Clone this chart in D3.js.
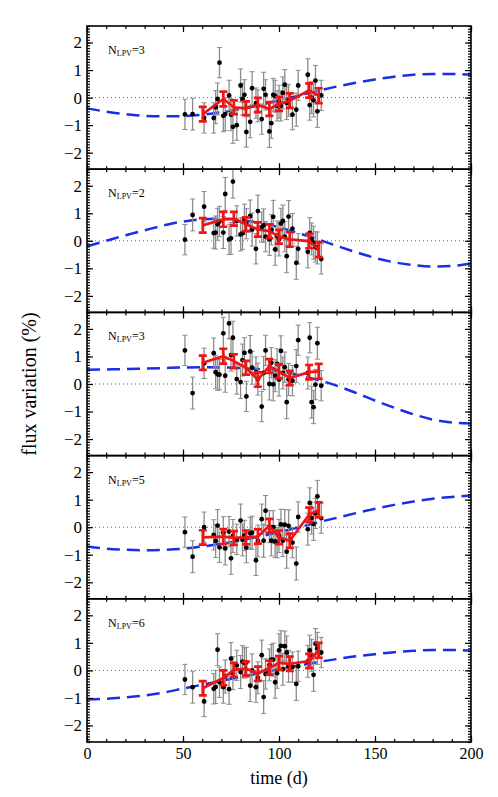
<!DOCTYPE html>
<html>
<head>
<meta charset="utf-8">
<script src="https://cdn.jsdelivr.net/npm/d3@7"></script>
<style>
  html, body { margin: 0; padding: 0; background: #fff; }
  svg { display: block; }
</style>
</head>
<body>
<div id="container"></div>
<script>
// observation epochs (days), shared by every panel
const times = [51, 55, 61, 66, 67, 68, 69, 71, 72, 74, 75, 76, 78, 80, 81, 82, 83, 85, 86, 88,
  89, 91, 92, 93, 95, 96, 97, 98, 99, 100, 101, 102, 103, 104, 105, 107, 109, 110,
  115, 116, 117, 118, 119, 120, 122]
const dotErr = [0.55, 0.58, 0.55, 0.55, 0.6, 0.58, 0.55, 0.58, 0.6, 0.55, 0.58, 0.6, 0.55, 0.6, 0.58,
  0.55, 0.55, 0.58, 0.6, 0.55, 0.58, 0.55, 0.6, 0.55, 0.58, 0.55, 0.6, 0.58, 0.55, 0.6,
  0.55, 0.58, 0.55, 0.6, 0.58, 0.55, 0.6, 0.55, 0.58, 0.55, 0.58, 0.6, 0.55, 0.58, 0.55]

const flux1 = [-0.61, -0.60, -0.74, -0.74, -0.35, -0.05, 1.27, -0.66, -0.60, 0.08, -0.62, -1.06, -1.00,
  0.44, -0.05, 0.10, -1.25, -0.88, 0.34, -0.20, -0.30, -0.78, 0.32, 0.10, -1.23, -0.93, 0.10,
  0.05, -0.30, -0.15, -0.30, 0.17, 0.47, -0.20, -0.10, -0.62, -0.44, 0.44, 0.83, -0.27, 0.00,
  -0.10, 0.62, -0.50, 0.08]
const flux2 = [0.04, 0.94, 1.24, 0.28, 0.30, 0.60, 0.70, 0.30, 1.70, 0.05, 0.09, 2.15, 0.72, 0.23,
  0.27, 0.78, 0.62, 0.90, 0.41, -0.29, 1.08, 0.50, 0.56, 0.15, 0.05, 0.40, 0.87, -0.31, 0.17,
  0.05, 0.63, 0.72, 0.15, -0.56, 0.88, 0.44, -0.80, -0.29, -0.40, 0.29, 0.07, -0.07, -0.22,
  -0.26, -0.66]
const flux3 = [1.22, -0.33, 0.75, 1.12, 0.43, 0.35, 0.34, 1.84, 0.30, 2.20, 1.05, 1.68, 0.18, 0.07,
  0.87, 1.13, -0.45, 1.18, 0.59, 0.43, 0.18, -0.82, 0.40, 1.22, 0.00, 0.77, -0.01, 0.30, 0.73,
  0.16, 1.20, 0.40, 0.61, -0.66, 0.16, 0.12, 0.65, 1.59, 0.40, 1.68, -0.66, -0.84, -0.02,
  1.48, -0.06]
const flux4 = [-0.18, -1.07, 0.00, -0.28, -0.50, 0.06, -0.73, -0.20, -0.77, -0.16, -1.13, -0.32,
  -0.44, 0.24, -0.46, -0.30, -0.74, -0.22, -0.20, -1.20, -0.50, 0.29, -0.49, 0.60, 0.02, -0.49,
  0.00, -0.52, -0.56, -0.32, 0.10, -0.49, 0.09, -0.89, 0.05, -0.56, -1.32, 0.37, -0.07, 0.88,
  0.33, 0.12, 0.50, 1.12, 0.33]
const flux5 = [-0.33, -0.61, -1.13, -0.67, -0.60, 0.75, -0.43, -0.61, -0.22, -0.68, 0.43, -0.10,
  0.18, -0.06, 0.32, 0.27, 0.29, -0.55, 0.00, -0.61, -0.27, 0.55, -0.97, -0.13, 0.20, 0.39,
  0.39, -0.43, -0.10, 0.73, 0.89, 0.04, 0.88, 0.65, 0.15, 0.12, -0.49, 0.15, 0.33, 0.73, 0.55,
  -0.16, 0.97, 0.80, 0.65]

// binned averages (red)
const binTimes = [60.3, 71, 76.5, 82.8, 89, 95, 100, 105.6, 115.7, 120.7]
const binErr = [0.26, 0.27, 0.25, 0.25, 0.26, 0.25, 0.25, 0.26, 0.26, 0.27]
const bin1 = [-0.60, -0.05, -0.35, -0.39, -0.27, -0.41, -0.23, -0.11, 0.26, 0.07]
const bin2 = [0.56, 0.78, 0.80, 0.60, 0.41, 0.35, 0.15, 0.05, -0.01, -0.32]
const bin3 = [0.77, 1.01, 0.83, 0.59, 0.16, 0.65, 0.46, 0.22, 0.43, 0.46]
const bin4 = [-0.37, -0.34, -0.39, -0.37, -0.34, 0.05, -0.37, -0.49, 0.45, 0.63]
const bin5 = [-0.65, -0.27, 0.02, 0.07, -0.12, 0.10, 0.27, 0.24, 0.34, 0.73]

// model curves (blue dashed)
const modelTimes = [0, 10, 20, 30, 40, 50, 60, 70, 80, 90, 100, 110, 120, 130, 140, 150, 160, 170, 180, 190, 200]
const model1 = [-0.39, -0.51, -0.60, -0.66, -0.68, -0.67, -0.62, -0.53, -0.41, -0.27, -0.10, 0.07,
  0.24, 0.40, 0.54, 0.66, 0.76, 0.83, 0.86, 0.86, 0.83]
const model2 = [-0.20, 0.00, 0.20, 0.38, 0.56, 0.70, 0.78, 0.80, 0.75, 0.65, 0.49, 0.28, 0.06,
  -0.18, -0.41, -0.62, -0.78, -0.88, -0.93, -0.91, -0.83]
const model3 = [0.52, 0.53, 0.54, 0.56, 0.58, 0.60, 0.61, 0.60, 0.58, 0.54, 0.46, 0.33, 0.15,
  -0.06, -0.32, -0.60, -0.86, -1.10, -1.29, -1.40, -1.43]
const model4 = [-0.70, -0.78, -0.82, -0.84, -0.82, -0.78, -0.70, -0.60, -0.48, -0.34, -0.18, -0.01,
  0.17, 0.34, 0.51, 0.67, 0.81, 0.93, 1.03, 1.10, 1.15]
const model5 = [-1.05, -1.03, -0.98, -0.91, -0.80, -0.66, -0.52, -0.38, -0.24, -0.10, 0.04, 0.17,
  0.30, 0.41, 0.51, 0.59, 0.66, 0.71, 0.74, 0.74, 0.71]

const nLPV = [3, 2, 3, 5, 6]
const xTicks = [0, 50, 100, 150, 200]
const yTicks = [-2, -1, 0, 1, 2]

const fluxes = [flux1, flux2, flux3, flux4, flux5]
const bins = [bin1, bin2, bin3, bin4, bin5]
const models = [model1, model2, model3, model4, model5]

const width = 498
const height = 797
const margin = { top: 26, bottom: 55, left: 87, right: 27 }
const nPanels = 5
const panelH = (height - margin.top - margin.bottom) / nPanels

const serif = '"Liberation Serif", "DejaVu Serif", serif'

const svg = d3.select('#container')
  .append('svg')
  .attr('width', width)
  .attr('height', height)
  .attr('viewBox', [0, 0, width, height])

const x = d3.scaleLinear()
  .domain([0, 200])
  .range([margin.left, width - margin.right])

const curve = d3.line().curve(d3.curveMonotoneX)

fluxes.forEach((flux, p) => {
  const top = margin.top + p * panelH
  const y = d3.scaleLinear()
    .domain([-2.6, 2.6])
    .range([top + panelH, top])

  const g = svg.append('g')

  svg.append('clipPath')
    .attr('id', 'clip' + p)
    .append('rect')
    .attr('x', x(0))
    .attr('y', top)
    .attr('width', x(200) - x(0))
    .attr('height', panelH)

  const plot = g.append('g').attr('clip-path', `url(#clip${p})`)

  // zero line
  plot.append('line')
    .attr('x1', x(0)).attr('x2', x(200))
    .attr('y1', y(0)).attr('y2', y(0))
    .style('stroke', '#666')
    .style('stroke-width', 1)
    .style('stroke-dasharray', '1,3')

  // model
  plot.append('path')
    .attr('d', curve(modelTimes.map((t, i) => [x(t), y(models[p][i])])))
    .style('fill', 'none')
    .style('stroke', '#1a2ee6')
    .style('stroke-width', 2.5)
    .style('stroke-dasharray', '13,7')

  // single points with error bars
  const pts = times.map((t, i) => ({ t, v: flux[i], e: dotErr[i] }))
  const eb = plot.append('g')
    .style('stroke', '#8c8c8c')
    .style('stroke-width', 1.3)
  eb.selectAll('line.v')
    .data(pts)
    .join('line')
    .attr('class', 'v')
    .attr('x1', d => x(d.t)).attr('x2', d => x(d.t))
    .attr('y1', d => y(d.v - d.e)).attr('y2', d => y(d.v + d.e))
  eb.selectAll('line.cap')
    .data(pts.flatMap(d => [[d.t, d.v - d.e], [d.t, d.v + d.e]]))
    .join('line')
    .attr('class', 'cap')
    .attr('x1', d => x(d[0]) - 2.5).attr('x2', d => x(d[0]) + 2.5)
    .attr('y1', d => y(d[1])).attr('y2', d => y(d[1]))
    .style('stroke-width', 1)

  plot.append('g')
    .selectAll('circle')
    .data(pts)
    .join('circle')
    .attr('cx', d => x(d.t))
    .attr('cy', d => y(d.v))
    .attr('r', 2.4)
    .style('fill', '#000')

  // binned averages
  const bpts = binTimes.map((t, i) => ({ t, v: bins[p][i], e: binErr[i] }))
  const red = plot.append('g')
    .style('stroke', '#f01414')
    .style('stroke-width', 2.7)
    .style('fill', 'none')
  red.append('path')
    .attr('d', d3.line()(bpts.map(d => [x(d.t), y(d.v)])))
    .style('stroke-linejoin', 'round')
  red.selectAll('line.v')
    .data(bpts)
    .join('line')
    .attr('class', 'v')
    .attr('x1', d => x(d.t)).attr('x2', d => x(d.t))
    .attr('y1', d => y(d.v - d.e)).attr('y2', d => y(d.v + d.e))
  red.selectAll('line.cap')
    .data(bpts.flatMap(d => [[d.t, d.v - d.e], [d.t, d.v + d.e]]))
    .join('line')
    .attr('class', 'cap')
    .attr('x1', d => x(d[0]) - 4).attr('x2', d => x(d[0]) + 4)
    .attr('y1', d => y(d[1])).attr('y2', d => y(d[1]))

  // axes: ticks point inward
  const axes = g.append('g')
  const styleAxis = sel => {
    sel.select('.domain').remove()
    sel.selectAll('line').style('stroke', '#000').style('stroke-width', 1.2)
  }
  axes.append('g')
    .attr('transform', `translate(${x(0)},0)`)
    .call(d3.axisLeft(y).tickValues(y.ticks(50)).tickSize(-3).tickFormat(''))
    .call(styleAxis)
  axes.append('g')
    .attr('transform', `translate(${x(200)},0)`)
    .call(d3.axisRight(y).tickValues(y.ticks(50)).tickSize(-3).tickFormat(''))
    .call(styleAxis)
  const left = axes.append('g')
    .attr('transform', `translate(${x(0)},0)`)
    .call(d3.axisLeft(y).tickValues(yTicks).tickSize(-6).tickPadding(5).tickFormat(d3.format('d')))
    .call(styleAxis)
  left.selectAll('text')
    .style('font-family', serif)
    .style('font-size', '17px')
    .style('fill', '#000')
  axes.append('g')
    .attr('transform', `translate(${x(200)},0)`)
    .call(d3.axisRight(y).tickValues(yTicks).tickSize(-6).tickFormat(''))
    .call(styleAxis)

  axes.append('g')
    .attr('transform', `translate(0,${top})`)
    .call(d3.axisTop(x).tickValues(x.ticks(20)).tickSize(-3).tickFormat(''))
    .call(styleAxis)
  axes.append('g')
    .attr('transform', `translate(0,${top})`)
    .call(d3.axisTop(x).tickValues(xTicks).tickSize(-6).tickFormat(''))
    .call(styleAxis)
  axes.append('g')
    .attr('transform', `translate(0,${top + panelH})`)
    .call(d3.axisBottom(x).tickValues(x.ticks(20)).tickSize(-3).tickFormat(''))
    .call(styleAxis)
  const bottom = axes.append('g')
    .attr('transform', `translate(0,${top + panelH})`)
    .call(d3.axisBottom(x).tickValues(xTicks).tickSize(-6).tickPadding(6)
      .tickFormat(p === nPanels - 1 ? d3.format('d') : ''))
    .call(styleAxis)
  bottom.selectAll('text')
    .style('font-family', serif)
    .style('font-size', '16px')
    .style('fill', '#000')

  // frame
  g.append('rect')
    .attr('x', x(0))
    .attr('y', top)
    .attr('width', x(200) - x(0))
    .attr('height', panelH)
    .style('fill', 'none')
    .style('stroke', '#000')
    .style('stroke-width', 1.6)

  // label
  const lab = g.append('text')
    .attr('x', x(11))
    .attr('y', top + 28)
    .style('font-family', serif)
    .style('font-size', '12px')
    .style('fill', '#000')
  lab.append('tspan').text('N')
  lab.append('tspan').attr('dy', 2).style('font-size', '8px').text('LPV')
  lab.append('tspan').attr('dy', -2).text('=' + nLPV[p])
})

svg.append('text')
  .attr('x', (x(0) + x(200)) / 2)
  .attr('y', height - 13)
  .attr('text-anchor', 'middle')
  .style('font-family', serif)
  .style('font-size', '18px')
  .text('time (d)')

svg.append('text')
  .attr('transform', `translate(36,${margin.top + 2.5 * panelH}) rotate(-90)`)
  .attr('text-anchor', 'middle')
  .style('font-family', serif)
  .style('font-size', '20px')
  .text('flux variation (%)')
</script>
</body>
</html>
